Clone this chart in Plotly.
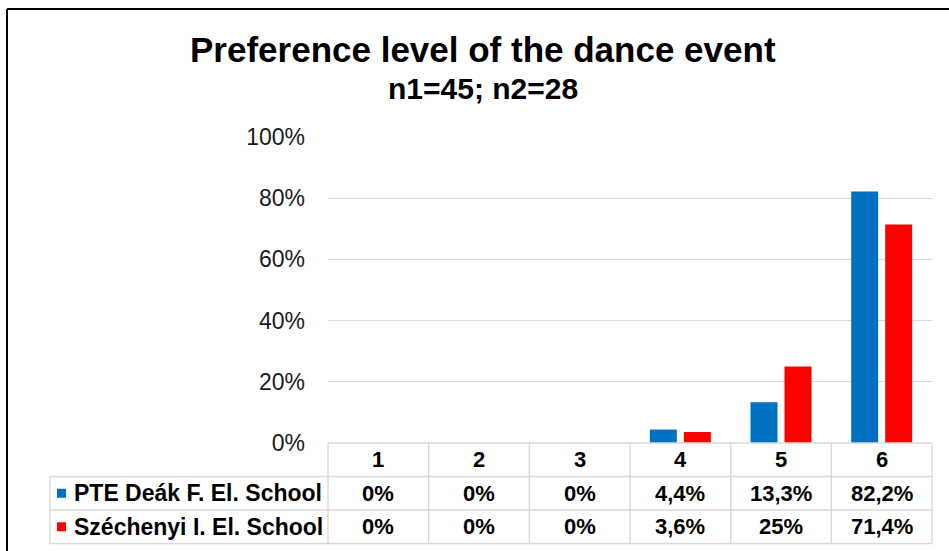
import plotly.graph_objects as go

# data
categories = ["1", "2", "3", "4", "5", "6"]
series_names = ["PTE Deák F. El. School", "Széchenyi I. El. School"]
pte_values = [0, 0, 0, 4.4, 13.3, 82.2]
szechenyi_values = [0, 0, 0, 3.6, 25, 71.4]
series_colors = ["#0070C0", "#FF0000"]

title_text = "Preference level of the dance event"
subtitle_text = "n1=45; n2=28"

FONT = "Liberation Sans, Arial, sans-serif"
W, H = 949, 551
# plot area in pixels
L, R, T, B = 328, 932, 137, 443
GRID = "#D9D9D9"


def px(x):
    """pixel x -> paper x"""
    return (x - L) / (R - L)


def py(y):
    """pixel y -> paper y"""
    return (B - y) / (B - T)


def fmt(v):
    if float(v).is_integer():
        return f"{int(v)}%"
    return f"{v:.1f}%".replace(".", ",")


fig = go.Figure()
all_values = [pte_values, szechenyi_values]
for name, vals, col in zip(series_names, all_values, series_colors):
    fig.add_trace(go.Bar(x=categories, y=vals, name=name, marker_color=col,
                         marker_line_width=0, showlegend=False, hoverinfo="skip"))

# data table below the plot
row_h = 33.5
rows_y = [B, B + row_h, B + 2 * row_h, B + 3 * row_h]
label_left = 50
col_w = (R - L) / len(categories)

shapes = []
line = dict(color=GRID, width=1.3)
shapes.append(dict(type="line", xref="paper", yref="paper",
                   x0=0, x1=1, y0=py(rows_y[0]), y1=py(rows_y[0]), line=line))
for y in rows_y[1:]:
    shapes.append(dict(type="line", xref="paper", yref="paper",
                       x0=px(label_left), x1=1, y0=py(y), y1=py(y), line=line))
shapes.append(dict(type="line", xref="paper", yref="paper",
                   x0=px(label_left), x1=px(label_left),
                   y0=py(rows_y[1]), y1=py(rows_y[3]), line=line))
for k in range(len(categories) + 1):
    xk = px(L + k * col_w)
    shapes.append(dict(type="line", xref="paper", yref="paper",
                       x0=xk, x1=xk, y0=py(rows_y[0]), y1=py(rows_y[3]), line=line))

# legend keys in the table
for i, col in enumerate(series_colors):
    yc = (rows_y[i + 1] + rows_y[i + 2]) / 2
    shapes.append(dict(type="rect", xref="paper", yref="paper",
                       x0=px(57), x1=px(66), y0=py(yc - 4.5), y1=py(yc + 4.5),
                       fillcolor=col, line=dict(width=0)))

# outer black frame (cropped at right/bottom)
shapes.append(dict(type="line", xref="paper", yref="paper",
                   x0=px(7), x1=px(W + 5), y0=py(9), y1=py(9),
                   line=dict(color="black", width=2)))
shapes.append(dict(type="line", xref="paper", yref="paper",
                   x0=px(7), x1=px(7), y0=py(9), y1=py(H + 5),
                   line=dict(color="black", width=2)))

annotations = []
tfont = dict(family=FONT, size=22, color="black")
hy = (rows_y[0] + rows_y[1]) / 2
for i, c in enumerate(categories):
    annotations.append(dict(x=i, xref="x", y=py(hy), yref="paper", text=f"<b>{c}</b>",
                            showarrow=False, font=tfont, xanchor="center", yanchor="middle"))
for i, (name, vals) in enumerate(zip(series_names, all_values)):
    yc = py((rows_y[i + 1] + rows_y[i + 2]) / 2)
    annotations.append(dict(x=px(72), xref="paper", y=yc, yref="paper",
                            text=f"<b>{name}</b>", showarrow=False,
                            font=dict(family=FONT, size=23, color="black"),
                            xanchor="left", yanchor="middle"))
    for j, v in enumerate(vals):
        annotations.append(dict(x=j, xref="x", y=yc, yref="paper", text=f"<b>{fmt(v)}</b>",
                                showarrow=False, font=tfont, xanchor="center", yanchor="middle"))

annotations.append(dict(x=px(483), y=py(50), xref="paper", yref="paper",
                        text=f"<b>{title_text}</b>", showarrow=False,
                        font=dict(family=FONT, size=35, color="black"),
                        xanchor="center", yanchor="middle"))
annotations.append(dict(x=px(483), y=py(89), xref="paper", yref="paper",
                        text=f"<b>{subtitle_text}</b>", showarrow=False,
                        font=dict(family=FONT, size=30, color="black"),
                        xanchor="center", yanchor="middle"))

fig.update_layout(
    width=W, height=H, autosize=False,
    margin=dict(l=L, r=W - R, t=T, b=H - B, pad=0),
    plot_bgcolor="white", paper_bgcolor="white",
    barmode="group", bargap=0.325, bargroupgap=0.206,
    shapes=shapes, annotations=annotations,
    xaxis=dict(type="category", range=[-0.5, 5.5], showticklabels=False,
               showgrid=False, zeroline=False, showline=False, ticks=""),
    yaxis=dict(range=[0, 100], dtick=20, ticksuffix="%", showgrid=True,
               gridcolor=GRID, gridwidth=1.3, zeroline=False, showline=False,
               ticklabelstandoff=22,
               tickfont=dict(family=FONT, size=23, color="#1a1a1a")),
)

# page body has a default 8px margin; drop it so the figure sits at 0,0
fig.write_html("out.html", config={"displayModeBar": False},
               post_script="document.body.style.margin='0';")
